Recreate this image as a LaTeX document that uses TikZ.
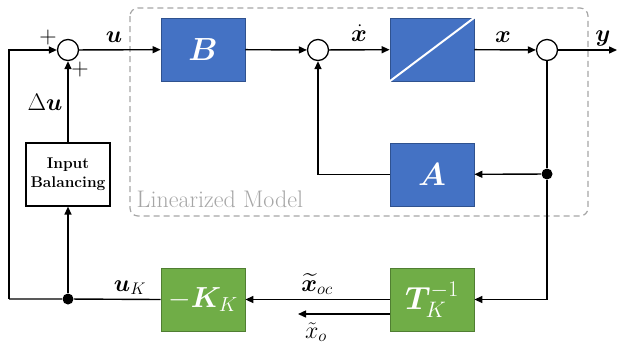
\RequirePackage{fix-cm}
\documentclass[tikz,border=0pt]{standalone}
\usepackage{amsmath}
\usepackage{bm}
\usepackage{fontspec}
\usetikzlibrary{arrows.meta,calc}
\definecolor{bfill}{HTML}{4472C4}
\definecolor{bdraw}{HTML}{2F528F}
\definecolor{gfill}{HTML}{70AD47}
\definecolor{gdraw}{HTML}{507E32}
\definecolor{dgray}{HTML}{A6A6A6}
\begin{document}
\begin{tikzpicture}[x=1pt,y=-1pt,>={Triangle[length=8pt,width=7pt]},line width=1.4pt,
  blk/.style={draw=bdraw,fill=bfill,line width=0.8pt,minimum width=84pt,minimum height=63pt,inner sep=0pt,text=white,font=\fontsize{32}{36}\selectfont},
  gblk/.style={blk,draw=gdraw,fill=gfill},
  wblk/.style={draw=black,line width=1.2pt,minimum width=84pt,minimum height=63pt,inner sep=0pt,align=center,font=\fontsize{15.5}{19}\selectfont\bfseries},
  sumn/.style={circle,draw=black,line width=1.3pt,minimum size=21pt,inner sep=0pt},
  dotn/.style={circle,fill=black,minimum size=11pt,inner sep=0pt},
  lbl/.style={anchor=base,inner sep=0pt,font=\fontsize{24}{28}\selectfont},
  pls/.style={inner sep=0pt,font=\fontsize{24}{26}\selectfont}]
\useasboundingbox (0,0) rectangle (617,349);
% linearized model frame
\draw[dgray,line width=1.2pt,dash pattern=on 6pt off 4pt,rounded corners=8pt] (130,8) rectangle (588,216);
\node[anchor=base west,inner sep=0pt,text=dgray,font=\fontsize{24}{28}\selectfont] (lm) at (136,207) {Linearized Model};
% nodes
\node[sumn] (s1) at (68,50) {};
\node[blk] (B) at (203,49.5) {$\bm{B}$};
\node[sumn] (s2) at (318,50) {};
\node[blk] (I) at (432,49.5) {};
\draw[white,line width=2pt] (I.south west) -- (I.north east);
\node[sumn] (s3) at (547,50) {};
\coordinate (yend) at (617,50);
\node[blk] (A) at (432,174.5) {$\bm{A}$};
\node[dotn] (dA) at (547,174) {};
\node[gblk] (T) at (432,299.5) {$\bm{T}_{K}^{-1}$};
\node[gblk,font=\fontsize{29}{32}\selectfont] (K) at (203,299.5) {$-\bm{K}_{K}$};
\node[wblk] (IB) at (68,174.5) {Input\\Balancing};
\node[dotn] (dK) at (68,299) {};
\coordinate (cl) at (9,299);
\coordinate (xo) at (298,314);
% connectors
\draw[->] (s1) -- (B);
\draw[->] (B) -- (s2);
\draw[->] (s2) -- (I);
\draw[->] (I) -- (s3);
\draw[->] (s3) -- (yend);
\draw (s3) -- (dA);
\draw[->] (dA) -- (A);
\draw[->] (A.west) -| (s2.south);
\draw[->] (dA) |- (T.east);
\draw[->] (T.west) -- (K.east);
\draw[->] (T.west |- xo) -- (xo);
\draw (K.west) -- (dK) -- (cl);
\draw[->] (cl) |- (s1.west);
\draw[->] (dK) -- (IB.south);
\draw[->] (IB.north) -- (s1.south);
% labels
\node[lbl] (lu) at (114,42) {$\bm{u}$};
\node[lbl] (ldu) at (45,110) {$\Delta\bm{u}$};
\node[lbl] (lxd) at (359,41) {$\dot{\bm{x}}$};
\node[lbl] (lx) at (503,42) {$\bm{x}$};
\node[lbl] (ly) at (603,41) {$\bm{y}$};
\node[lbl] (luk) at (130,291) {$\bm{u}_{K}$};
\node[lbl] (lxoc) at (317,291) {$\widetilde{\bm{x}}_{oc}$};
\node[lbl] (lxo) at (316,338) {$\tilde{x}_{o}$};
\node[pls] (p1) at (48,38) {+};
\node[pls] (p2) at (80,70) {+};
\end{tikzpicture}
\end{document}
